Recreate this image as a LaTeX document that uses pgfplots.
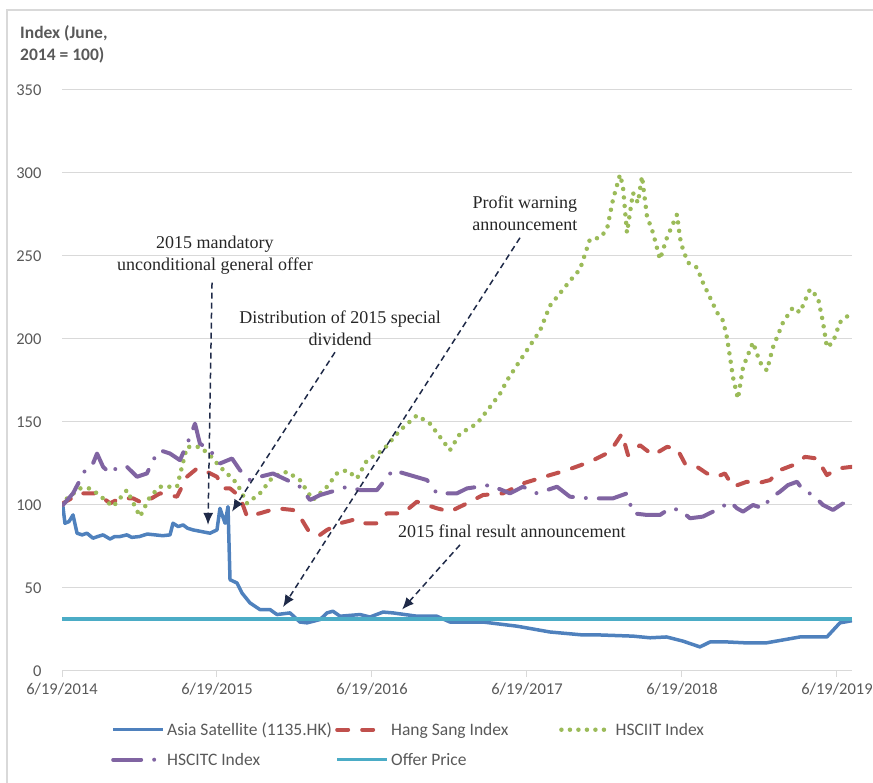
\documentclass[border=0pt]{standalone}
\usepackage{pgfplots}
\pgfplotsset{compat=1.18}
\usepackage{fontspec}
\setmainfont{Carlito}
\newfontfamily\serif{Liberation Serif}
\usetikzlibrary{arrows.meta}
\definecolor{cBlue}{HTML}{4F81BD}
\definecolor{cRed}{HTML}{C0504D}
\definecolor{cGreen}{HTML}{9BBB59}
\definecolor{cPurple}{HTML}{8064A2}
\definecolor{cCyan}{HTML}{4BACC6}
\definecolor{gridgray}{HTML}{D9D9D9}
\definecolor{txtgray}{HTML}{595959}
\definecolor{navy}{HTML}{1F2A48}
\begin{document}
\begin{tikzpicture}[x=1pt,y=1pt]
\useasboundingbox (0,0) rectangle (873,783);
\clip (0,0) rectangle (873,783);
\draw[gridgray, line width=1.2pt] (7,-10) -- (7,773) -- (900,773);
\node[anchor=north west, align=left, font=\bfseries\fontsize{17.5}{22}\selectfont, text=txtgray, inner sep=0pt] at (20,758) {Index (June,\\2014 = 100)};
\begin{axis}[
  at={(62pt,112pt)}, anchor=origin,
  scale only axis, width=790pt, height=581pt,
  xmin=0, xmax=5.097, ymin=0, ymax=350,
  xtick={0,1,2,3,4,5},
  xticklabels={6/19/2014,6/19/2015,6/19/2016,6/19/2017,6/19/2018,6/19/2019},
  ytick={0,50,100,150,200,250,300,350},
  ymajorgrids, grid style={gridgray, line width=1pt},
  axis x line=bottom, axis y line=left,
  axis line style={-},
  x axis line style={draw=gridgray, line width=1pt},
  y axis line style={draw=none},
  tick align=outside,
  xtick style={draw=gridgray, line width=1pt},
  major tick length=6pt,
  ytick style={draw=none},
  ticklabel style={font=\fontsize{16.5}{19}\selectfont, text=txtgray},
  yticklabel style={xshift=-11pt},
  xticklabel style={yshift=-3pt},
  /pgf/number format/assume math mode=true,
  legend columns=3,
  legend cell align=left,
  legend style={draw=none, fill=none, at={(0.062,-0.085)}, anchor=north west,
    font=\fontsize{17.5}{20}\selectfont, text=txtgray, row sep=12pt, inner sep=0pt,
    /tikz/every even column/.append style={column sep=0pt}},
  legend image code/.code={\draw[#1] (0pt,0pt) -- (50pt,0pt);},
]
\addplot[cBlue, line width=3.5pt, line join=round] coordinates {
(0,100)(0.006,99)(0.019,89)(0.045,90)(0.071,94)(0.097,83)(0.13,82)(0.161,83)(0.2,80)(0.23,81)(0.265,82)(0.31,79.5)(0.34,81)(0.374,81)(0.419,82)(0.45,80.5)(0.5,81)(0.55,82.5)(0.6,82)(0.65,81.5)(0.697,82)(0.716,89)(0.75,87)(0.781,88)(0.81,86)(0.845,85)(0.9,84)(0.955,83)(1.0,85)(1.019,98)(1.052,89)(1.071,99)(1.084,55)(1.129,53)(1.161,47)(1.213,41)(1.277,37)(1.342,37)(1.387,34)(1.471,35)(1.535,29.5)(1.581,29)(1.665,31)(1.71,35)(1.748,36)(1.794,33)(1.923,34)(1.987,32.5)(2.071,35.5)(2.135,35)(2.29,33)(2.419,33)(2.503,29.5)(2.716,29.5)(2.935,27)(3.148,23.5)(3.361,21.7)(3.471,21.7)(3.684,21)(3.794,20)(3.9,20.5)(4.006,18)(4.116,14.5)(4.181,17.5)(4.29,17.5)(4.4,17)(4.548,17)(4.761,20.5)(4.935,20.5)(5.019,29)(5.097,30.3)
};
\addlegendentry{\makebox[166pt][l]{Asia Satellite (1135.HK)}}
\addplot[cRed, line width=4pt, line cap=round, line join=round, dash pattern=on 11pt off 14pt] coordinates {
(0,100)(0.006,101)(0.116,107)(0.226,107)(0.31,101)(0.374,104)(0.458,104)(0.523,101)(0.632,107)(0.742,105)(0.806,117)(0.871,122)(0.935,120)(1.0,117)(1.039,110)(1.084,110)(1.148,105)(1.194,93)(1.277,95)(1.387,98)(1.49,97)(1.535,93)(1.6,83)(1.665,82)(1.71,85)(1.794,89)(1.877,91)(1.903,89)(2.032,89)(2.097,95)(2.2,95)(2.29,102)(2.419,98)(2.503,96)(2.613,101)(2.716,106)(2.845,107)(2.974,113)(3.148,118)(3.258,121)(3.406,126)(3.535,132)(3.613,143)(3.652,130)(3.729,136)(3.813,130)(3.903,135)(3.968,134)(4.019,125)(4.097,123)(4.161,119)(4.226,117)(4.277,119)(4.329,111)(4.419,114)(4.484,113)(4.568,115)(4.632,121)(4.716,124)(4.794,129)(4.871,128)(4.935,118)(5.006,122)(5.097,123)
};
\addlegendentry{\makebox[166pt][l]{Hang Sang Index}}
\addplot[cGreen, line width=4.5pt, line cap=round, line join=round, dash pattern=on 0pt off 8.5pt] coordinates {
(0,100)(0.006,102)(0.116,110)(0.181,110)(0.226,107)(0.265,104)(0.329,99)(0.419,109)(0.503,93)(0.568,105)(0.632,111)(0.742,111)(0.806,135)(0.89,135)(0.955,130)(1.019,123)(1.065,119)(1.129,113)(1.194,101)(1.277,107)(1.361,117)(1.452,120)(1.535,115)(1.619,103)(1.71,111)(1.774,119)(1.839,121)(1.903,116)(1.968,127)(2.071,133)(2.181,145)(2.29,154)(2.374,149)(2.439,141)(2.503,133)(2.568,143)(2.677,149)(2.761,159)(2.826,167)(2.871,175)(2.955,187)(3.084,205)(3.148,220)(3.277,235)(3.342,242)(3.406,260)(3.471,261)(3.516,266)(3.555,284)(3.6,299)(3.619,292)(3.645,264)(3.684,288)(3.716,282)(3.742,298)(3.774,274)(3.813,264)(3.858,248)(3.903,261)(3.968,275)(3.987,261)(4.006,254)(4.039,246)(4.097,243)(4.135,234)(4.181,225)(4.226,216)(4.265,211)(4.29,201)(4.31,189)(4.329,177)(4.361,164)(4.394,183)(4.458,198)(4.503,186)(4.548,181)(4.587,195)(4.652,210)(4.716,219)(4.761,216)(4.826,230)(4.877,225)(4.910,210)(4.935,195)(4.974,198)(5.019,210)(5.097,216)
};
\addlegendentry{HSCIIT Index}
\addplot[cPurple, line width=4pt, line cap=round, line join=round, dash pattern=on 28pt off 13pt on 0pt off 13pt] coordinates {
(0,100)(0.006,100)(0.071,107)(0.161,123)(0.2,125)(0.226,131)(0.265,123)(0.31,119)(0.361,123)(0.419,123)(0.484,117)(0.548,119)(0.587,127)(0.632,133)(0.697,131)(0.761,127)(0.826,141)(0.858,149)(0.89,137)(0.955,133)(1.019,125)(1.097,128)(1.148,121)(1.213,115)(1.277,117)(1.361,119)(1.452,115)(1.535,111)(1.6,103)(1.665,106)(1.774,109)(1.839,111)(1.923,109)(2.032,109)(2.135,121)(2.245,118)(2.355,115)(2.419,107)(2.548,107)(2.613,110)(2.761,112)(2.89,107)(2.974,111)(3.065,107)(3.194,111)(3.277,105)(3.406,104)(3.555,104)(3.645,107)(3.684,95)(3.774,94)(3.858,94)(3.923,98)(3.987,97)(4.052,92)(4.135,93)(4.2,96)(4.245,98)(4.31,102)(4.355,98)(4.394,96)(4.458,100)(4.523,98)(4.568,104)(4.632,108)(4.684,112)(4.742,114)(4.781,109)(4.845,106)(4.910,100)(4.974,97)(5.039,101)(5.097,96)
};
\addlegendentry{\makebox[166pt][l]{HSCITC Index}}
\addplot[cCyan, line width=3.5pt] coordinates {(0,31.3)(5.097,31.3)};
\addlegendentry{Offer Price}
% annotations
\begin{scope}[font=\serif\fontsize{18}{22}\selectfont, text=black!85]
\node[align=center] at (axis cs:0.987,250.5) {2015 mandatory\\unconditional general offer};
\node[align=center] at (axis cs:1.794,206.5) {Distribution of 2015 special\\dividend};
\node[align=center] at (axis cs:2.987,275.5) {Profit warning\\announcement};
\node[align=center] at (axis cs:2.903,84) {2015 final result announcement};
\end{scope}
\begin{scope}[navy, line width=1.5pt, dash pattern=on 6pt off 4pt, -{Latex[length=12pt,width=10pt]}]
\draw (axis cs:0.968,234) -- (axis cs:0.942,88);
\draw (axis cs:1.761,192) -- (axis cs:1.097,96);
\draw (axis cs:2.955,261) -- (axis cs:1.426,38.5);
\draw (axis cs:2.568,76) -- (axis cs:2.194,37);
\end{scope}
\end{axis}
\end{tikzpicture}
\end{document}
